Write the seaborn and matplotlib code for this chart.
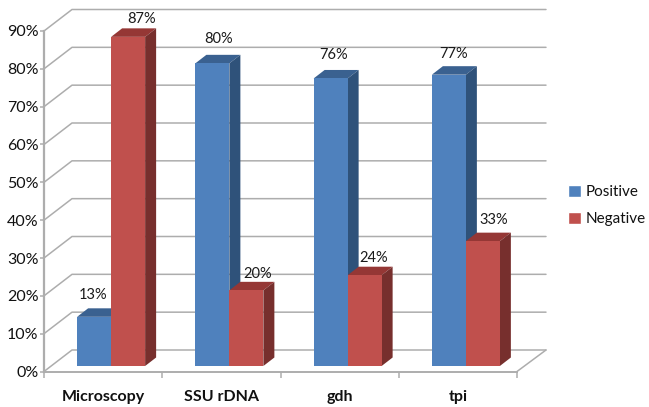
import matplotlib
matplotlib.use("Agg")
import matplotlib.pyplot as plt
from matplotlib.patches import Patch, Polygon
from matplotlib.ticker import FuncFormatter
import pandas as pd
import seaborn as sns

categories = ["Microscopy", "SSU rDNA", "gdh", "tpi"]
series_names = ["Positive", "Negative"]
positive = [13, 80, 76, 77]
negative = [87, 20, 24, 33]
y_ticks = list(range(0, 100, 10))

# per label nudges, px
label_dx = [[-1, 6, 3, 5], [13, 11, 9, 11]]
label_dy = [[13, 16, 15, 12], [9, 8, 9, 13]]

sns.set_theme(style="white")
plt.rcParams["font.family"] = ["Lato", "DejaVu Sans"]

GRID = "#ADADAD"
BLUE = ["#4F81BD", "#3A6190", "#2F527A"]
RED = ["#C0504D", "#953735", "#772F2D"]

df = pd.DataFrame({
    "category": categories * 2,
    "series": [series_names[0]] * 4 + [series_names[1]] * 4,
    "value": positive + negative,
})

fig = plt.figure(figsize=(6.49, 4.07), dpi=100, facecolor="white")
ax = fig.add_axes([44 / 649, (407 - 371.5) / 407, 473 / 649, 340.5 / 407])

sns.barplot(data=df, x="category", y="value", hue="series", order=categories,
            hue_order=series_names, palette=[BLUE[0], RED[0]], width=0.575,
            gap=0, saturation=1, legend=False, linewidth=0, ax=ax)

ax.set_xlim(-0.5, 3.5)
ax.set_ylim(0, 90)
ax.patch.set_alpha(0)


# pixels to data units
def px(x):
    return x / 118.25


def py(y):
    return y / 3.783


# back wall, side wall and floor
x0, x1 = -0.5, 3.5
for v in y_ticks:
    ax.plot([x0, x0 + px(28), x1 + px(29)], [v, v + py(21.5), v + py(21.5)],
            color=GRID, lw=1.1, zorder=1, clip_on=False)
ax.plot([x1, x1 + px(29)], [0, py(21.5)], color=GRID, lw=1.1, zorder=1, clip_on=False)

# move the fronts on to the bar plane and add tops and sides
for i, container in enumerate(ax.containers):
    colors = BLUE if i == 0 else RED
    z = 2 + i * 0.5
    for j, bar in enumerate(container.patches):
        bar.set_x(bar.get_x() + px(8))
        bar.set_y(py(5.5))
        bar.set_zorder(3)
        bar.set_clip_on(False)
        bar.set_edgecolor("none")
        left = bar.get_x()
        right = left + bar.get_width()
        base = bar.get_y()
        top = base + bar.get_height()
        dx, dy = px(11), py(8.5)
        ax.add_patch(Polygon([(left, top), (right, top), (right + dx, top + dy), (left + dx, top + dy)],
                             closed=True, fc=colors[1], ec="none", zorder=z, clip_on=False))
        ax.add_patch(Polygon([(right, base), (right + dx, base + dy), (right + dx, top + dy), (right, top)],
                             closed=True, fc=colors[2], ec="none", zorder=z, clip_on=False))
        value = [positive, negative][i][j]
        ax.text((left + right) / 2 + px(label_dx[i][j]), top + py(label_dy[i][j] + 8.5), f"{value}%",
                ha="center", va="center", fontsize=10.5, color="#1a1a1a", zorder=5, clip_on=False)

ax.set_xlabel("")
ax.set_ylabel("")
ax.set_yticks(y_ticks)
ax.yaxis.set_major_formatter(FuncFormatter(lambda v, _: f"{v:.0f}%"))
ax.set_xticks(range(4))
ax.set_xticklabels(categories, fontweight="bold", fontsize=11.5, color="#111111")
ax.set_xticks([x0, 0.5, 1.5, 2.5, x1], minor=True)
ax.tick_params(axis="x", which="major", length=0, pad=13)
ax.tick_params(axis="x", which="minor", length=4, width=1.1, color=GRID, bottom=True)
ax.tick_params(axis="y", length=3, width=1.1, color=GRID, labelsize=11.5, labelcolor="#111111", pad=1, left=True)

sns.despine(ax=ax)
ax.spines["left"].set_color(GRID)
ax.spines["left"].set_linewidth(1.6)
ax.spines["bottom"].set_color(GRID)
ax.spines["bottom"].set_linewidth(1.4)

handles = [Patch(fc=BLUE[0], label=series_names[0]), Patch(fc=RED[0], label=series_names[1])]
fig.legend(handles=handles, loc="upper left", bbox_to_anchor=(563 / 649, 1 - 180 / 407), frameon=False,
           fontsize=11, handlelength=0.85, handleheight=0.85, handletextpad=0.3,
           labelspacing=0.85, borderpad=0.3, borderaxespad=0, labelcolor="#111111")

fig.savefig("out.png", dpi=100)
